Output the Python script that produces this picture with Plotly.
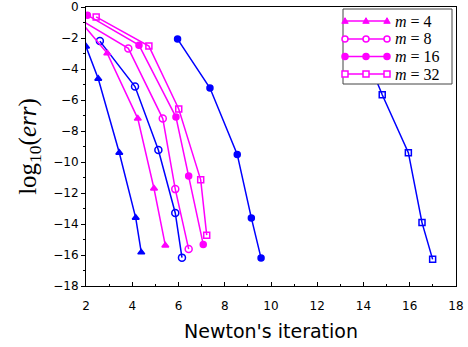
import plotly.graph_objects as go

# Blue series (other method, not in legend)
b4_x = [2.0, 2.53, 3.44, 4.15, 4.39]
b4_y = [-2.55, -4.63, -9.40, -13.6, -15.83]
b8_x = [2.6, 4.12, 5.13, 5.86, 6.15]
b8_y = [-2.2, -5.13, -9.23, -13.29, -16.17]
b16_x = [5.96, 7.36, 8.54, 9.15, 9.57]
b16_y = [-2.07, -5.23, -9.51, -13.61, -16.2]
b32_x = [13.8, 14.81, 15.94, 16.53, 16.99]
b32_y = [-2.0, -5.66, -9.40, -13.91, -16.28]

# Magenta series (legend)
m4_x = [1.7, 2.92, 4.24, 4.94, 5.43]
m4_y = [-0.82, -2.99, -7.2, -11.71, -15.38]
m8_x = [1.8, 3.83, 5.32, 5.86, 6.44]
m8_y = [-0.87, -2.67, -7.2, -11.75, -15.62]
m16_x = [2.06, 4.29, 5.89, 6.44, 7.07]
m16_y = [-0.53, -2.46, -7.1, -10.9, -15.32]
m32_x = [2.44, 4.72, 6.01, 6.96, 7.22]
m32_y = [-0.64, -2.52, -6.58, -11.15, -14.72]

legend_labels = ["<i>m</i> = 4", "<i>m</i> = 8", "<i>m</i> = 16", "<i>m</i> = 32"]
x_ticks = [2, 4, 6, 8, 10, 12, 14, 16, 18]
y_ticks = [0, -2, -4, -6, -8, -10, -12, -14, -16, -18]

BLUE = "#0000FF"
MAG = "#FF00FF"
W, H = 468, 347
ML, MR, MT, MB = 86, 12, 7, 61
PW, PH = W - ML - MR, H - MT - MB

fig = go.Figure()

def add(x, y, color, symbol, size):
    fig.add_trace(go.Scatter(
        x=x, y=y, mode="lines+markers", showlegend=False,
        line=dict(color=color, width=1.5),
        marker=dict(symbol=symbol, size=size, color=color,
                    line=dict(color=color, width=1.5)),
    ))

add(b4_x, b4_y, BLUE, "triangle-up", 6)
add(b8_x, b8_y, BLUE, "circle-open", 7)
add(b16_x, b16_y, BLUE, "circle", 6)
add(b32_x, b32_y, BLUE, "square-open", 6)

add(m4_x, m4_y, MAG, "triangle-up", 6)
add(m8_x, m8_y, MAG, "circle-open", 7)
add(m16_x, m16_y, MAG, "circle", 6)
add(m32_x, m32_y, MAG, "square-open", 6)

# ---- hand-built legend (pixel layout -> paper coords) ----
def px(x):
    return (x - ML) / PW

def py(y):
    return (MT + PH - y) / PH

shapes = [dict(type="rect", xref="paper", yref="paper",
               x0=px(343), x1=px(452), y0=py(84), y1=py(9),
               line=dict(color="#444", width=1), fillcolor="white", layer="above")]
annotations = []
rows = [21, 39, 56.5, 74]
kinds = ["tri", "circ-open", "circ", "sq-open"]
r = 3.0
for ry, kind, lab in zip(rows, kinds, legend_labels):
    shapes.append(dict(type="line", xref="paper", yref="paper",
                       x0=px(345), x1=px(387), y0=py(ry), y1=py(ry),
                       line=dict(color=MAG, width=1.5), layer="above"))
    for mx in (345, 366, 387):
        if kind == "tri":
            path = "M {} {} L {} {} L {} {} Z".format(
                px(mx - 3.2), py(ry + 2.3), px(mx + 3.2), py(ry + 2.3), px(mx), py(ry - 3.3))
            shapes.append(dict(type="path", xref="paper", yref="paper", path=path,
                               fillcolor=MAG, line=dict(color=MAG, width=1), layer="above"))
        elif kind in ("circ", "circ-open"):
            shapes.append(dict(type="circle", xref="paper", yref="paper",
                               x0=px(mx - r), x1=px(mx + r), y0=py(ry + r), y1=py(ry - r),
                               fillcolor=MAG if kind == "circ" else "white",
                               line=dict(color=MAG, width=1.5), layer="above"))
        else:
            shapes.append(dict(type="rect", xref="paper", yref="paper",
                               x0=px(mx - r), x1=px(mx + r), y0=py(ry + r), y1=py(ry - r),
                               fillcolor="white", line=dict(color=MAG, width=1.5), layer="above"))
    annotations.append(dict(xref="paper", yref="paper", x=px(393), y=py(ry),
                            xanchor="left", yanchor="middle", showarrow=False,
                            text=lab, font=dict(family="Liberation Serif", size=16, color="black")))

tick_font = dict(family="DejaVu Sans", size=12, color="black")

fig.update_layout(
    width=W, height=H,
    margin=dict(l=ML, r=MR, t=MT, b=MB, autoexpand=False),
    plot_bgcolor="white", paper_bgcolor="white",
    showlegend=False,
    shapes=shapes, annotations=annotations,
    xaxis=dict(
        range=[2, 18.0001], tickvals=x_ticks, ticktext=[str(v) for v in x_ticks],
        ticks="inside", ticklen=4, tickcolor="black",
        minor=dict(dtick=1, ticks="inside", ticklen=2, tickcolor="black"),
        showline=True, linecolor="black", linewidth=1, mirror=True,
        showgrid=False, zeroline=False, tickfont=tick_font, automargin=False,
        ticklabelstandoff=9, ticklabeloverflow="allow",
        title=dict(text="Newton's iteration",
                   font=dict(family="DejaVu Sans", size=19, color="black"),
                   standoff=12),
    ),
    yaxis=dict(
        range=[-18.0001, 0.0001], tickvals=y_ticks,
        ticktext=[("\u2212" + str(-v)) if v < 0 else str(v) for v in y_ticks],
        ticks="outside", ticklen=4, tickcolor="black",
        minor=dict(dtick=1, ticks="outside", ticklen=2, tickcolor="black"),
        showline=True, linecolor="black", linewidth=1, mirror=True,
        showgrid=False, zeroline=False, tickfont=tick_font, automargin=False,
        ticklabeloverflow="allow",
        title=dict(text="log<sub>10</sub>(<i>err</i>)",
                   font=dict(family="Liberation Serif", size=25, color="black"),
                   standoff=9),
    ),
)

fig.write_html("out.html", config={"displayModeBar": False},
               post_script="document.body.style.margin='0';document.body.style.overflow='hidden';")
